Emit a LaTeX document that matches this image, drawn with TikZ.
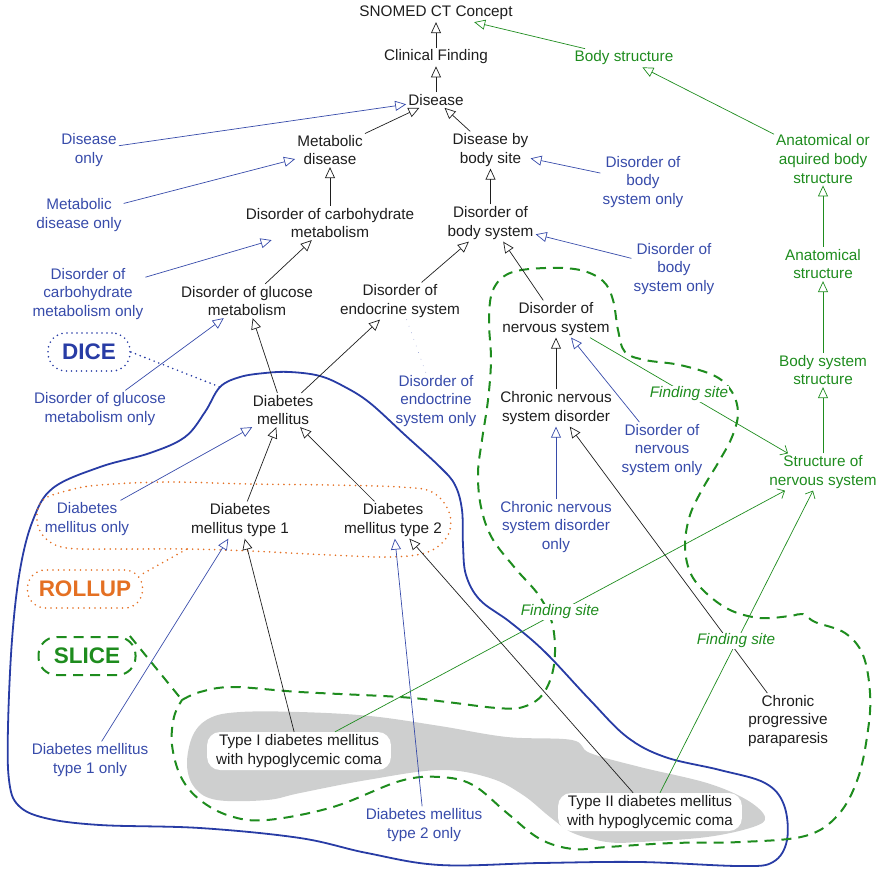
\documentclass[tikz,border=0pt]{standalone}
\usepackage{fontspec}
\setmainfont{Liberation Sans}
\usetikzlibrary{arrows.meta,calc}
\definecolor{cblue}{RGB}{55,75,170}
\definecolor{rblue}{RGB}{40,60,165}
\definecolor{cgreen}{RGB}{30,140,30}
\definecolor{corange}{RGB}{228,112,35}
\definecolor{cgray}{RGB}{206,207,207}
\definecolor{ctext}{RGB}{30,30,30}
\begin{document}
\begin{tikzpicture}[x=1pt,y=-1pt,
  txt/.style={font=\fontsize{15.3}{18.6}\selectfont, align=center, inner sep=2pt, text=ctext},
  bl/.style={txt, text=cblue},
  gr/.style={txt, text=cgreen},
  fs/.style={font=\fontsize{15.3}{18.6}\selectfont\itshape, text=cgreen, fill=white, inner sep=1pt},
  pill/.style={txt, fill=white, rounded corners=13pt, minimum height=38pt, inner xsep=9pt},
  tag/.style={font=\fontsize{22.5}{26}\selectfont\bfseries, rounded corners=18pt, minimum height=38pt, line width=1.8pt},
  isa/.style={draw=ctext, line width=0.7pt, -{Triangle[open,length=11pt,width=10pt]}},
  isab/.style={isa, draw=cblue},
  isag/.style={isa, draw=cgreen},
  fsl/.style={draw=cgreen, line width=0.7pt, -{Straight Barb[length=6pt,width=11pt]}},
  dotb/.style={draw=rblue, line width=1.8pt, line cap=round, dash pattern=on 0pt off 5pt},
  doto/.style={draw=corange, line width=1.8pt, line cap=round, dash pattern=on 0pt off 5.5pt},
  dashg/.style={draw=cgreen, line width=2pt, dash pattern=on 10pt off 7pt},
  faint/.style={draw=cblue!60, line width=0.8pt, line cap=round, dash pattern=on 0pt off 7pt}
]
\useasboundingbox (0,0) rectangle (882,868);

% gray blob
\fill[cgray] plot[smooth cycle, tension=0.6] coordinates {(187,765) (193,735) (210,718) (240,712) (300,712) (370,716) (440,726) (507,737) (572,740) (590,753) (640,767) (707,783) (747,800) (765,817) (753,827) (707,837) (640,842) (607,842) (573,833) (550,817) (523,795) (490,778) (440,770) (367,780) (300,793) (267,800) (217,800) (195,788)};

% blue DICE region
\draw[rblue, line width=1.8pt] plot[smooth cycle, tension=0.6] coordinates {(220,387) (240,377) (265,373) (290,372) (320,376) (345,387) (370,403) (405,435) (440,467) (455,485) (462,510) (463,545) (466,575) (480,600) (510,622) (545,652) (590,700) (627,737) (665,757) (720,770) (765,783) (784,805) (787,840) (773,862) (740,866) (640,862) (540,863) (440,865) (367,853) (300,838) (200,828) (100,825) (45,818) (18,805) (9,780) (8,727) (12,640) (20,570) (33,520) (53,488) (100,467) (150,453) (185,437) (205,412)};
\coordinate (dicept) at (220,387);

% orange ROLLUP region
\draw[doto] plot[smooth cycle, tension=0.6] coordinates {(43,500) (70,490) (100,485) (167,482) (250,484) (330,485) (400,487) (432,492) (449,512) (448,535) (428,552) (390,557) (330,555) (250,551) (187,549) (120,549) (67,548) (45,538) (37,520)};
\coordinate (rollpt) at (187,549);

% green SLICE region
\draw[dashg] plot[smooth, tension=0.6] coordinates {(182,700) (200,692) (233,687) (300,692) (400,697) (447,702) (497,708) (523,707) (543,694) (554,665) (553,627) (540,597) (515,568) (492,538) (481,507) (478,473) (482,440) (488,400) (491,360) (489,320) (493,290) (510,273) (545,268) (580,270) (603,281) (613,300) (618,330) (625,352) (645,360) (680,365) (715,376) (732,392) (738,413) (732,437) (718,463) (703,488) (690,515) (685,545) (690,572) (705,592) (730,610) (760,618) (790,616) (803,614) (815,622) (845,633) (863,655) (870,693) (868,730) (858,778) (838,815) (805,836) (740,842) (673,843) (607,847) (573,849) (540,839) (507,813) (473,785) (440,777) (400,781) (333,807) (267,820) (230,816) (200,800) (181,777) (172,745) (174,717) (182,700)};
\coordinate (slicept) at (182,700);

% black concept nodes
\node[txt] (snomed) at (436,13) {SNOMED CT Concept};
\node[txt] (cf) at (436,57) {Clinical Finding};
\node[txt] (dis) at (436,100) {Disease};
\node[txt] (md) at (330,150) {Metabolic\\disease};
\node[txt] (dbs) at (490.5,150) {Disease by\\body site};
\node[txt] (dcm) at (330,223) {Disorder of carbohydrate\\metabolism};
\node[txt] (dbsys) at (490.5,223) {Disorder of\\body system};
\node[txt] (dgm) at (247,301) {Disorder of glucose\\metabolism};
\node[txt] (des) at (400,301) {Disorder of\\endocrine system};
\node[txt] (dns) at (556,319) {Disorder of\\nervous system};
\node[txt] (cnsd) at (556,408) {Chronic nervous\\system disorder};
\node[txt] (dm) at (283,410) {Diabetes\\mellitus};
\node[txt] (dm1) at (240,520) {Diabetes\\mellitus type 1};
\node[txt] (dm2) at (393,520) {Diabetes\\mellitus type 2};
\node[pill] (t1) at (299,751) {Type I diabetes mellitus\\with hypoglycemic coma};
\node[pill] (t2) at (650,812) {Type II diabetes mellitus\\with hypoglycemic coma};
\node[txt] (cpp) at (788,721) {Chronic\\progressive\\paraparesis};

% blue "only" nodes
\node[bl] (donly) at (89,150) {Disease\\only};
\node[bl] (mdonly) at (79,215) {Metabolic\\disease only};
\node[bl] (dcmonly) at (88,294) {Disorder of\\carbohydrate\\metabolism only};
\node[bl] (dgmonly) at (100,409) {Disorder of glucose\\metabolism only};
\node[bl] (dbsonlyA) at (643,182) {Disorder of\\body\\system only};
\node[bl] (dbsonlyB) at (674,269) {Disorder of\\body\\system only};
\node[bl] (desonly) at (436,401) {Disorder of\\endoctrine\\system only};
\node[bl] (dnsonly) at (662,450) {Disorder of\\nervous\\system only};
\node[bl] (cnsdonly) at (556,527) {Chronic nervous\\system disorder\\only};
\node[bl] (dmonly) at (87,519) {Diabetes\\mellitus only};
\node[bl] (dmAonly) at (90,760) {Diabetes mellitus\\type 1 only};
\node[bl] (dmBonly) at (424,825) {Diabetes mellitus\\type 2 only};

% green body structure nodes
\node[gr] (bs) at (624,58) {Body structure};
\node[gr] (aabs) at (823,159) {Anatomical or\\aquired body\\structure};
\node[gr] (as) at (823,264) {Anatomical\\structure};
\node[gr] (bss) at (823,370) {Body system\\structure};
\node[gr] (sns) at (823,472) {Structure of\\nervous system};

% tags
\node[tag, draw=rblue, text=rblue, dash pattern=on 0pt off 5pt, line cap=round, minimum width=82pt] (dice) at (89,352) {DICE};
\node[tag, draw=corange, text=corange, dash pattern=on 0pt off 5.5pt, line cap=round, minimum width=115pt] (rollup) at (85,589) {ROLLUP};
\node[tag, draw=cgreen, text=cgreen, dash pattern=on 10pt off 7pt, line width=2pt, minimum width=97pt] (slice) at (87,656) {SLICE};
\draw[dotb] (dice.east) -- (dicept);
\draw[doto] (rollup.15) -- (rollpt);
\draw[dashg] (slice.25) -- (slicept);

% is-a connectors
\draw[isa] (cf) -- (snomed);
\draw[isa] (dis) -- (cf);
\draw[isa] (md) -- (dis);
\draw[isa] (dbs) -- (dis);
\draw[isab] (donly) -- (dis);
\draw[isab] (mdonly) -- (md);
\draw[isa] (dcm) -- (md);
\draw[isa] (dbsys) -- (dbs);
\draw[isab] (dbsonlyA) -- (dbs);
\draw[isab] (dcmonly) -- (dcm);
\draw[isa] (dgm) -- (dcm);
\draw[isa] (des) -- (dbsys);
\draw[isa] (dns) -- (dbsys);
\draw[isab] (dbsonlyB) -- (dbsys);
\draw[isab] (dgmonly) -- (dgm);
\draw[isa] (dm) -- (dgm);
\draw[isa] (dm) -- (des);
\draw[faint] (des) -- (desonly);
\draw[isa] (cnsd) -- (dns);
\draw[isab] (dnsonly) -- (dns);
\draw[isab] (cnsdonly) -- (cnsd);
\draw[isa] (cpp) -- (cnsd);
\draw[isa] (dm1) -- (dm);
\draw[isa] (dm2) -- (dm);
\draw[isab] (dmonly) -- (dm);
\draw[isa] (t1) -- (dm1);
\draw[isab] (dmAonly) -- (dm1);
\draw[isa] (t2) -- (dm2);
\draw[isab] (dmBonly) -- (dm2);

% green hierarchy
\draw[isag] (sns) -- (bss);
\draw[isag] (bss) -- (as);
\draw[isag] (as) -- (aabs);
\draw[isag] (aabs) -- (bs);
\draw[isag] (bs) -- (snomed);

% finding site relations
\draw[fsl] ($(dns.south)+(34,0)$) -- ($(sns.north)+(-35,0)$);
\draw[fsl] ($(t1.north)+(36,0)$) -- ($(sns.south)+(-38,0)$);
\draw[fsl] ($(t2.north)+(10,0)$) -- ($(sns.south)+(-10,0)$);
\node[fs] (fsA) at (689,394) {Finding site};
\node[fs] (fsB) at (560,612) {Finding site};
\node[fs] (fsC) at (736,641) {Finding site};
\end{tikzpicture}
\end{document}
